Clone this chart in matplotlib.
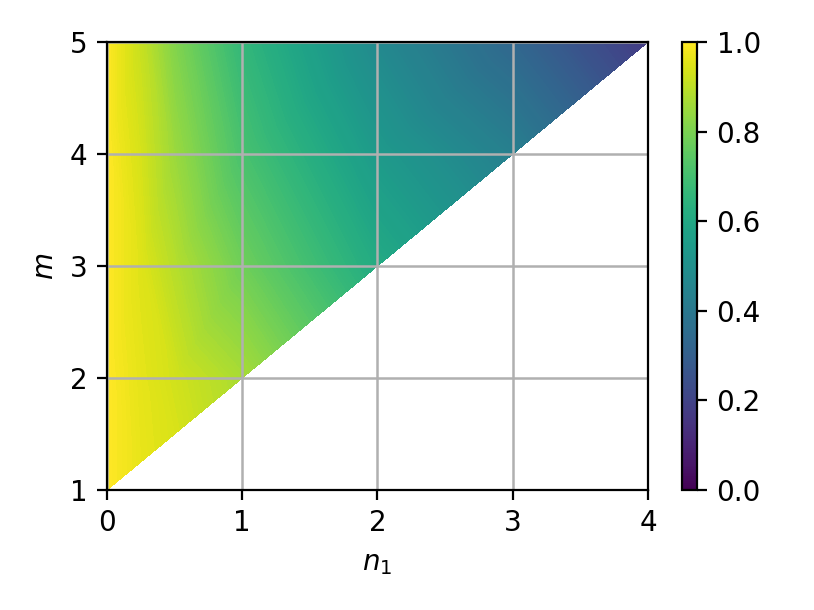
import numpy as np
import matplotlib.pyplot as plt
import matplotlib.tri as mtri

# values at sample nodes (n1, m) -> colour value
n1_pts = [0, 0, 0, 0, 0,
          0.25, 0.25, 0.25, 0.25, 0.25,
          0.5, 0.5, 0.5, 0.5, 0.5,
          1, 1, 1, 1,
          2, 2, 2,
          3, 3,
          4]
m_pts = [1, 2, 3, 4, 5,
         1.25, 2, 3, 4, 5,
         1.5, 2, 3, 4, 5,
         2, 3, 4, 5,
         3, 4, 5,
         4, 5,
         5]
vals = [1.0, 1.0, 1.0, 1.0, 1.0,
        0.965, 0.96, 0.95, 0.935, 0.915,
        0.94, 0.93, 0.89, 0.85, 0.81,
        0.87, 0.78, 0.71, 0.66,
        0.61, 0.54, 0.47,
        0.43, 0.33,
        0.17]

x_ticks = [0, 1, 2, 3, 4]
y_ticks = [1, 2, 3, 4, 5]

fig = plt.figure(figsize=(4.07, 3.05), dpi=200)
ax = fig.add_axes([0.1314, 0.1967, 0.6646, 0.7344])
cax = fig.add_axes([0.838, 0.1967, 0.0184, 0.7344])

tri = mtri.Triangulation(n1_pts, m_pts)
cs = ax.tricontourf(tri, vals, levels=np.linspace(0, 1, 201), cmap="viridis", vmin=0, vmax=1)

ax.set_xlim(0, 4)
ax.set_ylim(1, 5)
ax.set_xticks(x_ticks)
ax.set_yticks(y_ticks)
ax.grid(True, color="#b0b0b0", linewidth=0.9)
ax.set_xlabel("$n_1$")
ax.set_ylabel("$m$")

sm = plt.cm.ScalarMappable(cmap="viridis", norm=plt.Normalize(0, 1))
cb = fig.colorbar(sm, cax=cax)
cb.set_ticks([0.0, 0.2, 0.4, 0.6, 0.8, 1.0])

fig.savefig("out.png", dpi=200)
